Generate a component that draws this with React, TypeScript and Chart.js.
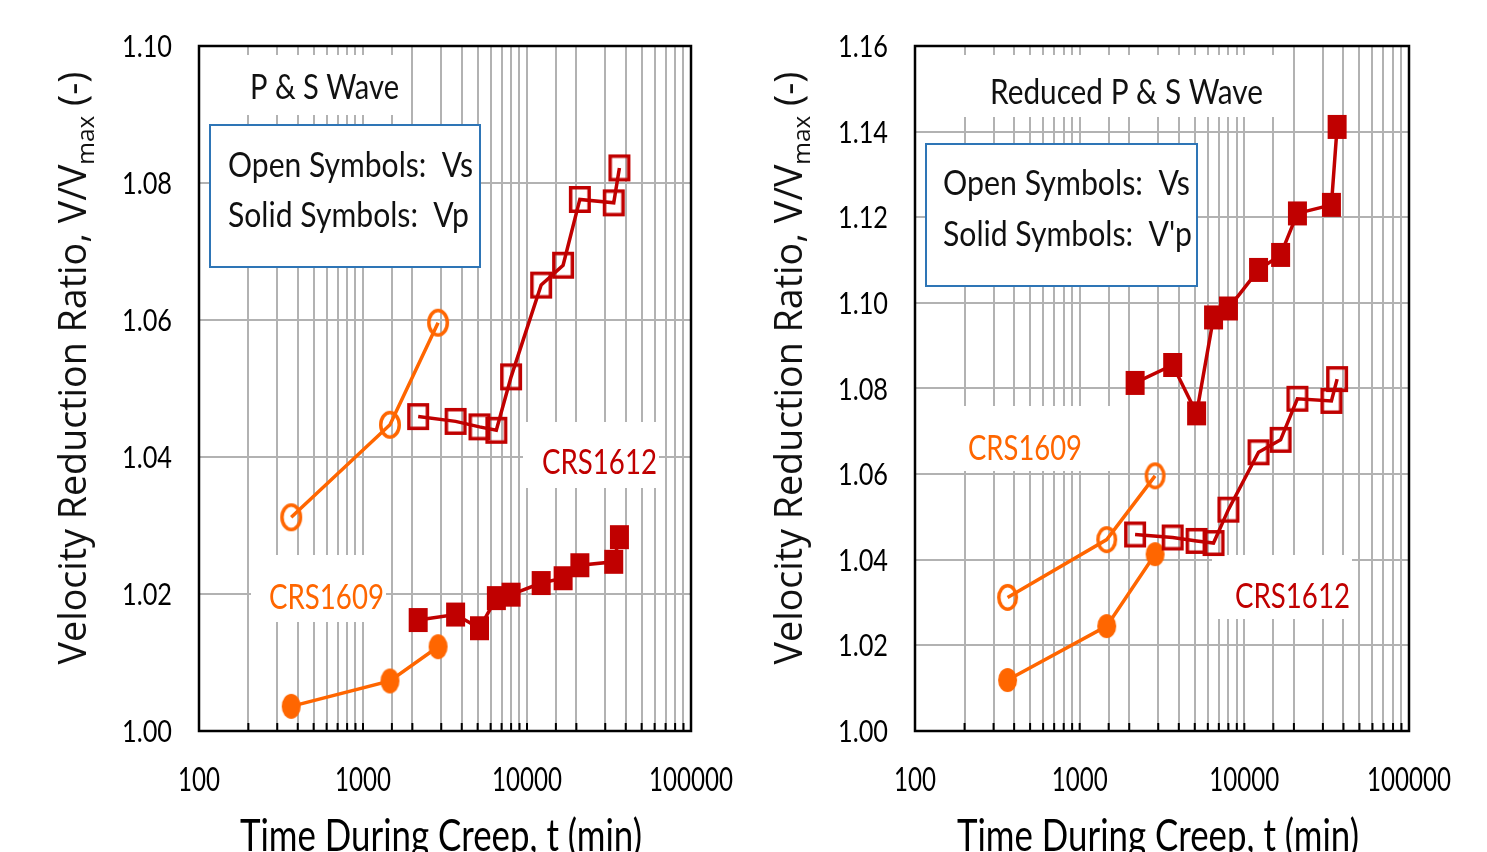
import React, { useEffect, useRef } from "react";
import { Chart, registerables } from "chart.js";

Chart.register(...registerables);

// ---------------- data ----------------
const TIME_1609 = [365, 1460, 2870];
const TIME_1612 = [2170, 3670, 5130, 6500, 8000, 12200, 16600, 21000, 33800, 36600];

const VS_1609 = [1.0312, 1.0447, 1.0596];
const VP_1609 = [1.0036, 1.0073, 1.0123];
const VPR_1609 = [1.0119, 1.0245, 1.0413];

const VS_1612 = [1.0459, 1.0452, 1.0444, 1.0439, 1.0517, 1.0651, 1.068, 1.0776, 1.0771, 1.0822];
const VP_1612 = [1.0162, 1.017, 1.015, 1.0194, 1.0199, 1.0216, 1.0223, 1.0242, 1.0247, 1.0283];
const VPR_1612 = [1.0813, 1.0855, 1.0742, 1.0966, 1.0987, 1.1077, 1.1112, 1.1209, 1.1229, 1.1411];

const X_LABELS = [100, 1000, 10000, 100000];
const LEFT_Y_RANGE = [1.0, 1.1];
const RIGHT_Y_RANGE = [1.0, 1.16];
const Y_STEP = 0.02;

// ---------------- style ----------------
const ORANGE = "#FF6600";
const RED = "#C00000";
const GRID = "#b2b2b2";
const BLUE = "#2E75B6";
const LATO = "Lato, 'Open Sans', sans-serif";
const WIDE = "'Open Sans', 'Noto Sans', sans-serif";
const CAP = 0.716;
const H = 852;
const LINE_W = 3.5;

type Box = { x: number; y: number; w: number; h: number; stroke?: string };
type Txt = { text: string; x: number; cy: number; w: number; color: string; size: number };

// ---------------- markers (slightly tall, like the reference) ----------------
function makeMarker(kind: "openRect" | "solidRect" | "openEll" | "solidEll", color: string, w: number, h: number) {
  const c = document.createElement("canvas");
  c.width = w + 2;
  c.height = h + 2;
  const g = c.getContext("2d") as CanvasRenderingContext2D;
  const cx = c.width / 2;
  const cy = c.height / 2;
  const lw = 3.5;
  g.strokeStyle = color;
  g.fillStyle = color;
  g.lineWidth = lw;
  if (kind === "openRect") {
    g.strokeRect(cx - w / 2 + lw / 2, cy - h / 2 + lw / 2, w - lw, h - lw);
  } else if (kind === "solidRect") {
    g.fillRect(cx - w / 2, cy - h / 2, w, h);
  } else if (kind === "openEll") {
    g.beginPath();
    g.ellipse(cx, cy, w / 2 - lw / 2, h / 2 - lw / 2, 0, 0, Math.PI * 2);
    g.stroke();
  } else {
    g.beginPath();
    g.ellipse(cx, cy, w / 2, h / 2, 0, 0, Math.PI * 2);
    g.fill();
  }
  return c;
}

function series(xs: number[], ys: number[], color: string, marker: HTMLCanvasElement) {
  return {
    data: xs.map((x, i) => ({ x, y: ys[i] })),
    showLine: true,
    borderColor: color,
    borderWidth: LINE_W,
    backgroundColor: color,
    pointStyle: marker,
    pointRadius: 10,
    tension: 0,
    fill: false,
  };
}

function drawScaled(
  ctx: CanvasRenderingContext2D,
  text: string,
  x: number,
  cy: number,
  size: number,
  k: number,
  color: string,
  align: CanvasTextAlign
) {
  ctx.save();
  ctx.font = `${size}px ${LATO}`;
  ctx.translate(x, cy + (size * CAP) / 2);
  ctx.scale(k, 1);
  ctx.textAlign = align;
  ctx.textBaseline = "alphabetic";
  ctx.fillStyle = color;
  ctx.fillText(text, 0, 0);
  ctx.restore();
}

function fitK(ctx: CanvasRenderingContext2D, text: string, size: number, target: number) {
  ctx.save();
  ctx.font = `${size}px ${LATO}`;
  const w = ctx.measureText(text).width;
  ctx.restore();
  return target / w;
}

function makeDecor(spec: {
  offsetX: number;
  boxes: Box[];
  texts: Txt[];
  yTitleX: number;
  yTitleY: number;
  xTitleX: number;
}) {
  return {
    id: "decor",
    beforeDatasetsDraw(chart: any) {
      const ctx = chart.ctx as CanvasRenderingContext2D;
      const ox = spec.offsetX;
      ctx.save();
      for (const b of spec.boxes) {
        ctx.fillStyle = "#fff";
        ctx.fillRect(b.x - ox, b.y, b.w, b.h);
        if (b.stroke) {
          ctx.strokeStyle = b.stroke;
          ctx.lineWidth = 2;
          ctx.strokeRect(b.x - ox, b.y, b.w, b.h);
        }
      }
      ctx.restore();
      for (const t of spec.texts) {
        const k = fitK(ctx, t.text, t.size, t.w);
        drawScaled(ctx, t.text, t.x - ox, t.cy, t.size, k, t.color, "left");
      }
    },
    afterDraw(chart: any) {
      const ctx = chart.ctx as CanvasRenderingContext2D;
      const a = chart.chartArea;
      const ox = spec.offsetX;
      const xs = chart.scales.x;
      const ys = chart.scales.y;
      ctx.save();
      // bottom tick marks
      ctx.strokeStyle = "#000";
      ctx.lineWidth = 2;
      for (const t of xs.ticks) {
        const px = xs.getPixelForValue(t.value);
        ctx.beginPath();
        ctx.moveTo(px, a.bottom);
        ctx.lineTo(px, a.bottom - 8);
        ctx.stroke();
      }
      // frame
      ctx.lineWidth = 2.5;
      ctx.strokeRect(a.left, a.top, a.right - a.left, a.bottom - a.top);
      ctx.restore();

      // x tick labels
      const kx = fitK(ctx, "100000", 33, 84);
      for (const v of X_LABELS) {
        drawScaled(ctx, String(v), xs.getPixelForValue(v), 779, 33, kx, "#000", "center");
      }
      // y tick labels
      const ky = fitK(ctx, "1.10", 31, 50);
      for (const t of ys.ticks) {
        drawScaled(ctx, Number(t.value).toFixed(2), a.left - 27, ys.getPixelForValue(t.value), 31, ky, "#000", "right");
      }

      // x title (partly cut by the bottom edge, as in the reference)
      const kt = fitK(ctx, "Time During Creep, t (min)", 44, 402);
      drawScaled(ctx, "Time During Creep, t (min)", spec.xTitleX - ox, 835, 44, kt, "#000", "center");

      // y title with subscript
      ctx.save();
      const p1 = "Velocity Reduction Ratio, V/V";
      const p2 = "max";
      const p3 = " (-)";
      let size = 28;
      ctx.font = `${size}px ${WIDE}`;
      const w1 = ctx.measureText(p1 + p3).width;
      ctx.font = `${size * 0.65}px ${WIDE}`;
      const w2 = ctx.measureText(p2).width;
      size = (size * 593) / (w1 + w2);
      ctx.font = `${size}px ${WIDE}`;
      const a1 = ctx.measureText(p1).width;
      const a3 = ctx.measureText(p3).width;
      ctx.font = `${size * 0.65}px ${WIDE}`;
      const a2 = ctx.measureText(p2).width;
      const total = a1 + a2 + a3;
      ctx.translate(spec.yTitleX - ox, spec.yTitleY);
      ctx.rotate(-Math.PI / 2);
      ctx.textAlign = "left";
      ctx.textBaseline = "alphabetic";
      ctx.fillStyle = "#111";
      let cx = -total / 2;
      ctx.font = `${size}px ${WIDE}`;
      ctx.fillText(p1, cx, 0);
      cx += a1;
      ctx.font = `${size * 0.65}px ${WIDE}`;
      ctx.fillText(p2, cx, size * 0.22);
      cx += a2;
      ctx.font = `${size}px ${WIDE}`;
      ctx.fillText(p3, cx, 0);
      ctx.restore();
    },
  };
}

function makeConfig(opts: {
  width: number;
  plotLeft: number;
  plotRight: number;
  yRange: number[];
  datasets: any[];
  decor: any;
}) {
  return {
    type: "scatter" as const,
    data: { datasets: opts.datasets },
    plugins: [opts.decor],
    options: {
      animation: false,
      responsive: false,
      devicePixelRatio: 1,
      layout: { padding: { left: 0, right: opts.width - opts.plotRight, top: 46, bottom: 0 } },
      plugins: { legend: { display: false }, tooltip: { enabled: false } },
      scales: {
        x: {
          type: "logarithmic",
          min: 100,
          max: 100000,
          grid: { color: GRID, lineWidth: 2, drawTicks: false },
          border: { display: false },
          ticks: { display: false, autoSkip: false, maxRotation: 0, minRotation: 0 },
          afterFit: (s: any) => {
            s.height = H - 731;
            s.paddingLeft = 0;
            s.paddingRight = 0;
          },
        },
        y: {
          type: "linear",
          min: opts.yRange[0],
          max: opts.yRange[1],
          grid: { color: GRID, lineWidth: 2, drawTicks: false },
          border: { display: false },
          ticks: { display: false, stepSize: Y_STEP },
          afterFit: (s: any) => {
            s.width = opts.plotLeft;
            s.paddingTop = 0;
            s.paddingBottom = 0;
          },
        },
      },
    },
  };
}

function ChartCanvas({ build, left, width }: { build: () => any; left: number; width: number }) {
  const ref = useRef<HTMLCanvasElement>(null);
  useEffect(() => {
    const chart = new Chart(ref.current as HTMLCanvasElement, build());
    return () => chart.destroy();
  }, []);
  return (
    <canvas
      ref={ref}
      width={width}
      height={H}
      style={{ position: "absolute", left, top: 0, width, height: H, display: "block" }}
    />
  );
}

const LEFT_W = 745;
const RIGHT_X = 745;
const RIGHT_W = 1487 - 745;

function buildLeft() {
  return makeConfig({
    width: LEFT_W,
    plotLeft: 199,
    plotRight: 691,
    yRange: LEFT_Y_RANGE,
    datasets: [
      series(TIME_1612, VP_1612, RED, makeMarker("solidRect", RED, 19, 24)),
      series(TIME_1612, VS_1612, RED, makeMarker("openRect", RED, 22, 27)),
      series(TIME_1609, VS_1609, ORANGE, makeMarker("openEll", ORANGE, 22, 28)),
      series(TIME_1609, VP_1609, ORANGE, makeMarker("solidEll", ORANGE, 19, 25)),
    ],
    decor: makeDecor({
      offsetX: 0,
      boxes: [
        { x: 238, y: 55, w: 170, h: 60 },
        { x: 210, y: 125, w: 270, h: 142, stroke: BLUE },
        { x: 523, y: 422, w: 136, h: 66 },
        { x: 251, y: 555, w: 135, h: 67 },
      ],
      texts: [
        { text: "P & S Wave", x: 250, cy: 86, w: 149, color: "#111", size: 35 },
        { text: "Open Symbols:  Vs", x: 228, cy: 164, w: 245, color: "#111", size: 35 },
        { text: "Solid Symbols:  Vp", x: 228, cy: 214, w: 241, color: "#111", size: 35 },
        { text: "CRS1612", x: 542, cy: 461, w: 115, color: RED, size: 35 },
        { text: "CRS1609", x: 269, cy: 596, w: 115, color: ORANGE, size: 35 },
      ],
      yTitleX: 86,
      yTitleY: 368,
      xTitleX: 441,
    }),
  });
}

function buildRight() {
  return makeConfig({
    width: RIGHT_W,
    plotLeft: 915 - RIGHT_X,
    plotRight: 1409 - RIGHT_X,
    yRange: RIGHT_Y_RANGE,
    datasets: [
      series(TIME_1612, VPR_1612, RED, makeMarker("solidRect", RED, 19, 24)),
      series(TIME_1612, VS_1612, RED, makeMarker("openRect", RED, 22, 26)),
      series(TIME_1609, VS_1609, ORANGE, makeMarker("openEll", ORANGE, 21, 27)),
      series(TIME_1609, VPR_1609, ORANGE, makeMarker("solidEll", ORANGE, 19, 24)),
    ],
    decor: makeDecor({
      offsetX: RIGHT_X,
      boxes: [
        { x: 955, y: 55, w: 333, h: 62 },
        { x: 926, y: 144, w: 271, h: 142, stroke: BLUE },
        { x: 955, y: 406, w: 170, h: 65 },
        { x: 1212, y: 555, w: 140, h: 64 },
      ],
      texts: [
        { text: "Reduced P & S Wave", x: 990, cy: 91, w: 273, color: "#111", size: 35 },
        { text: "Open Symbols:  Vs", x: 943, cy: 182, w: 247, color: "#111", size: 35 },
        { text: "Solid Symbols:  V'p", x: 943, cy: 233, w: 249, color: "#111", size: 35 },
        { text: "CRS1609", x: 968, cy: 447, w: 114, color: ORANGE, size: 35 },
        { text: "CRS1612", x: 1235, cy: 595, w: 115, color: RED, size: 35 },
      ],
      yTitleX: 802,
      yTitleY: 368,
      xTitleX: 1158,
    }),
  });
}

export default function App() {
  return (
    <div style={{ position: "absolute", left: 0, top: 0, width: 1487, height: H, background: "#fff", overflow: "hidden" }}>
      <ChartCanvas build={buildLeft} left={0} width={LEFT_W} />
      <ChartCanvas build={buildRight} left={RIGHT_X} width={RIGHT_W} />
    </div>
  );
}
